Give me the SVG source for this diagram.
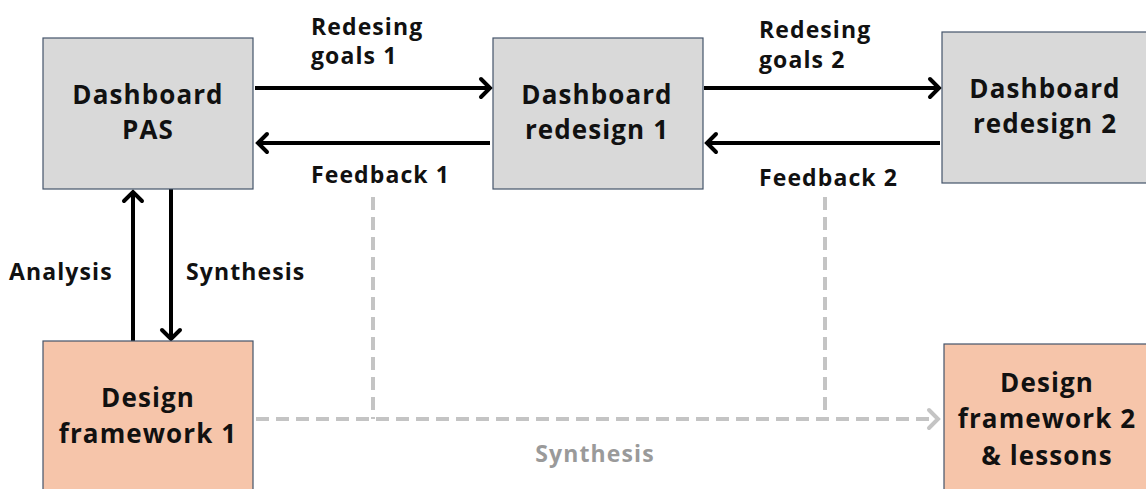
<svg xmlns="http://www.w3.org/2000/svg" width="1146" height="489" viewBox="0 0 1146 489">
  <style>
    .box-grey { fill: #d9d9d9; stroke: #44546a; stroke-width: 1.2; }
    .box-peach { fill: #f6c5aa; stroke: #44546a; stroke-width: 1.2; }
    .node-text { font-family: "Open Sans", "Liberation Sans", sans-serif; font-weight: 700; font-size: 26px; fill: #111111; text-anchor: middle; letter-spacing: 1.1px; }
    .label { font-family: "Open Sans", "Liberation Sans", sans-serif; font-weight: 700; font-size: 23px; fill: #111111; letter-spacing: 1.1px; }
    .label-grey { fill: #9a9a9a; }
    .solid { fill: none; stroke: #000000; stroke-width: 4; }
    .dashed { fill: none; stroke: #c4c4c4; stroke-width: 4; stroke-dasharray: 13 7; }
  </style>
  <defs>
    <marker id="arrow-black" markerUnits="userSpaceOnUse" markerWidth="24" markerHeight="24" refX="12" refY="12" orient="auto" overflow="visible">
      <path d="M 3 3 L 12 12 L 3 21" fill="none" stroke="#000000" stroke-width="4" stroke-linecap="round" stroke-linejoin="miter"/>
    </marker>
    <marker id="arrow-grey" markerUnits="userSpaceOnUse" markerWidth="24" markerHeight="24" refX="12" refY="12" orient="auto" overflow="visible">
      <path d="M 3 3 L 12 12 L 3 21" fill="none" stroke="#c4c4c4" stroke-width="4" stroke-linecap="round" stroke-linejoin="miter"/>
    </marker>
  </defs>

  <rect width="1146" height="489" fill="#ffffff"/>

  <!-- connectors -->
  <g id="connectors">
    <!-- dashed synthesis path with feedback branches -->
    <path class="dashed" d="M 256 419 L 938 419" marker-end="url(#arrow-grey)"/>
    <path class="dashed" d="M 373 197 L 373 419"/>
    <path class="dashed" d="M 825 197 L 825 419"/>
    <!-- horizontal flows -->
    <path class="solid" d="M 255 88 L 490 88" marker-end="url(#arrow-black)"/>
    <path class="solid" d="M 490 143 L 258 143" marker-end="url(#arrow-black)"/>
    <path class="solid" d="M 704 88 L 939 88" marker-end="url(#arrow-black)"/>
    <path class="solid" d="M 940 143 L 707 143" marker-end="url(#arrow-black)"/>
    <!-- vertical flows -->
    <path class="solid" d="M 133 341 L 133 192" marker-end="url(#arrow-black)"/>
    <path class="solid" d="M 171 189 L 171 339" marker-end="url(#arrow-black)"/>
    <!-- connector labels -->
    <text class="label" x="311" y="35">Redesing</text>
    <text class="label" x="311" y="64">goals 1</text>
    <text class="label" x="311" y="183">Feedback 1</text>
    <text class="label" x="759" y="38">Redesing</text>
    <text class="label" x="759" y="68">goals 2</text>
    <text class="label" x="759" y="186">Feedback 2</text>
    <text class="label" x="9" y="280">Analysis</text>
    <text class="label" x="186" y="280">Synthesis</text>
    <text class="label label-grey" x="595" y="462" text-anchor="middle">Synthesis</text>
  </g>

  <g id="dashboard-pas">
    <rect class="box-grey" x="43" y="38" width="210" height="151"/>
    <text class="node-text" x="148" y="104">Dashboard</text>
    <text class="node-text" x="148" y="139">PAS</text>
  </g>

  <g id="dashboard-redesign-1">
    <rect class="box-grey" x="493" y="38" width="210" height="151"/>
    <text class="node-text" x="597" y="104">Dashboard</text>
    <text class="node-text" x="597" y="139">redesign 1</text>
  </g>

  <g id="dashboard-redesign-2">
    <rect class="box-grey" x="942" y="32" width="210" height="151"/>
    <text class="node-text" x="1045" y="98">Dashboard</text>
    <text class="node-text" x="1045" y="133">redesign 2</text>
  </g>

  <g id="design-framework-1">
    <rect class="box-peach" x="43" y="341" width="210" height="160"/>
    <text class="node-text" x="148" y="407">Design</text>
    <text class="node-text" x="148" y="443">framework 1</text>
  </g>

  <g id="design-framework-2">
    <rect class="box-peach" x="944" y="344" width="210" height="160"/>
    <text class="node-text" x="1047" y="392">Design</text>
    <text class="node-text" x="1047" y="428">framework 2</text>
    <text class="node-text" x="1047" y="465">&amp; lessons</text>
  </g>
</svg>
